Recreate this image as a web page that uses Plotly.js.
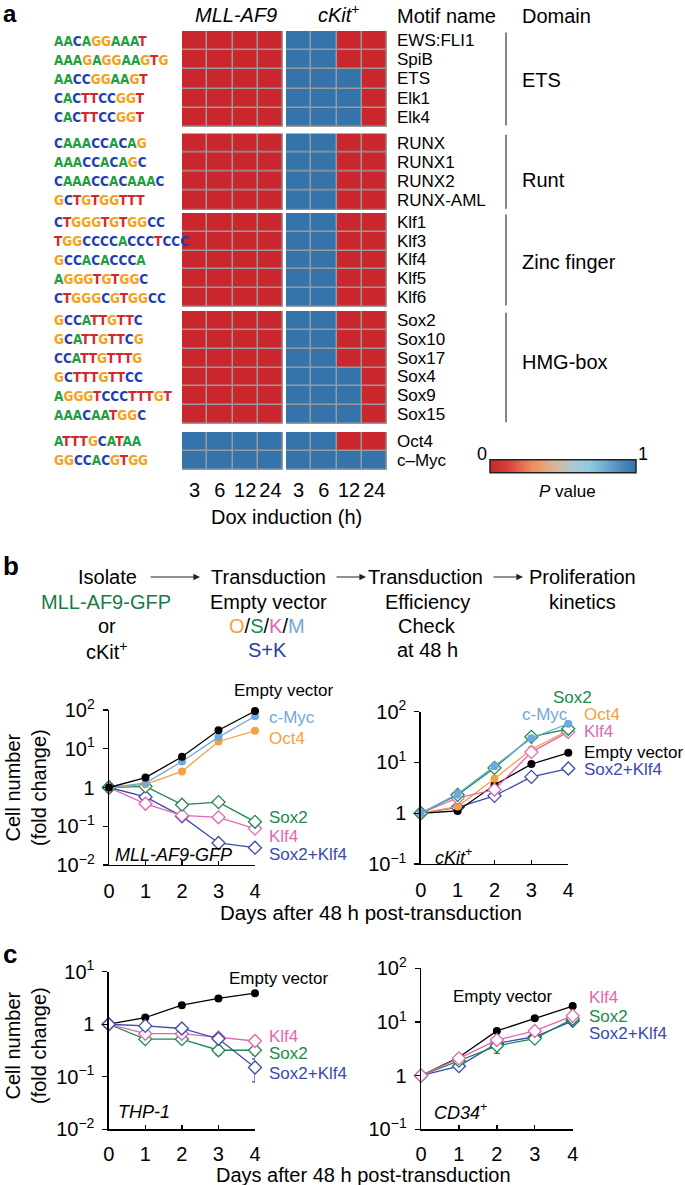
<!DOCTYPE html>
<html><head><meta charset="utf-8">
<script src="https://cdn.plot.ly/plotly-3.0.1.min.js"></script>
<style>html,body{margin:0;padding:0;background:#fff}#chart{width:685px;height:1185px}</style>
</head><body><div id="chart"></div>
<script>
// ---------------- DATA ----------------
const timeLabels = ['3','6','12','24'];
const etsMotifs = ['EWS:FLI1','SpiB','ETS','Elk1','Elk4'];
const runtMotifs = ['RUNX','RUNX1','RUNX2','RUNX-AML'];
const klfMotifs = ['Klf1','Klf3','Klf4','Klf5','Klf6'];
const soxMotifs = ['Sox2','Sox10','Sox17','Sox4','Sox9','Sox15'];
const otherMotifs = ['Oct4','c–Myc'];
const etsLogos = ['AACAGGAAAT','AAAGAGGAAGTG','AACCGGAAGT','CACTTCCGGT','CACTTCCGGT'];
const runtLogos = ['CAAACCACAG','AAACCACAGC','CAAACCACAAAC','GCTGTGGTTT'];
const klfLogos = ['CTGGGTGTGGCC','TGGCCCCACCCTCCC','GCCACACCCA','AGGGTGTGGC','CTGGGCGTGGCC'];
const soxLogos = ['GCCATTGTTC','GCATTGTTCG','CCATTGTTTG','GCTTTGTTCC','AGGGTCCCTTTGT','AAACAATGGC'];
const otherLogos = ['ATTTGCATAA','GGCCACGTGG'];
// P values (0 = red, 1 = blue)
const etsMLL = [[0,0,0,0],[0,0,0,0],[0,0,0,0],[0,0,0,0],[0,0,0,0]];
const etsCKit = [[1,1,0,0],[1,1,0,0],[1,1,1,0],[1,1,1,0],[1,1,1,0]];
const runtMLL = [[0,0,0,0],[0,0,0,0],[0,0,0,0],[0,0,0,0]];
const runtCKit = [[1,1,0,0],[1,1,0,0],[1,1,0,0],[1,1,0,0]];
const klfMLL = [[0,0,0,0],[0,0,0,0],[0,0,0,0],[0,0,0,0],[0,0,0,0]];
const klfCKit = [[1,1,0,0],[1,1,0,0],[1,1,0,0],[1,1,0,0],[1,1,0,0]];
const soxMLL = [[0,0,0,0],[0,0,0,0],[0,0,0,0],[0,0,0,0],[0,0,0,0],[0,0,0,0]];
const soxCKit = [[1,1,0,0],[1,1,0,0],[1,1,0,0],[1,1,1,0],[1,1,1,0],[1,1,1,0]];
const otherMLL = [[1,1,1,1],[1,1,1,1]];
const otherCKit = [[1,1,0,0],[1,1,1,1]];
const domainNames = ['ETS','Runt','Zinc finger','HMG-box'];

const days = [0,1,2,3,4];
const mllEmpty = [1,1.8,6.2,30,94];
const mllMyc = [1,1.3,4.7,20,69];
const mllOct4 = [1,1.2,2.6,15.4,29];
const mllSox2 = [1,1.07,0.36,0.42,0.13];
const mllKlf4 = [1,0.38,0.19,0.17,0.087];
const mllSK = [1,0.57,0.18,0.037,0.028];

const ckEmpty = [1,1.11,3.6,9.3,15.5];
const ckMyc = [1,2.4,8.5,30,58];
const ckSox2 = [1,2.3,7.8,32,46];
const ckOct4 = [1,1.35,4.8,18,43];
const ckKlf4 = [1,2.0,2.9,16,40];
const ckSK = [1,1.3,2.2,5.2,7.6];
const ckMycErr = [0,0.4,1.2,2,4];
const ckKlf4Err = [0,0.2,0.3,1.5,8];

const thpEmpty = [1,1.34,2.3,3.1,3.9];
const thpKlf4 = [1,0.66,0.66,0.56,0.48];
const thpSox2 = [1,0.52,0.52,0.32,0.32];
const thpSK = [1,0.93,0.83,0.53,0.15];
const thpKlf4Err = [0,0.03,0.03,0.03,0.1];
const thpSox2Err = [0,0.03,0.03,0.06,0.06];
const thpSKErr = [0,0.03,0.03,0.03,0.07];

const cdEmpty = [1,2.2,6.8,11.7,19.8];
const cdKlf4 = [1,2.1,4.6,6.8,13];
const cdSox2 = [1,1.9,3.6,4.9,11.5];
const cdSK = [1,1.5,4.0,5.3,10.5];
const cdSox2Err = [0,0.2,1.0,0.4,1.0];

// ---------------- STYLE ----------------
const W=685, H=1185;
const X = p => p/W;
const Y = p => 1 - p/H;
const FONT = 'Liberation Sans, Arial, Helvetica, sans-serif';
const LOGOFONT = 'DejaVu Sans Condensed, Liberation Sans Narrow, sans-serif';
const colEmpty='#000000', colMyc='#6fa8dc', colOct4='#f7a040', colSox2='#1c8a4a', colKlf4='#e067b0', colSK='#3a4aad';
const logoColors = {A:'#1f9e3f', C:'#1f3fb5', G:'#f5a21b', T:'#d6262b'};
const heatScale = [[0,'#c9262e'],[0.12,'#d8403a'],[0.3,'#ef925c'],[0.45,'#d8b69a'],[0.57,'#a9c9d4'],[0.68,'#90cbe0'],[0.8,'#6ea8cf'],[0.9,'#4a8abd'],[1,'#3474aa']];

const groupMotifs = [etsMotifs, runtMotifs, klfMotifs, soxMotifs, otherMotifs];
const groupLogos = [etsLogos, runtLogos, klfLogos, soxLogos, otherLogos];
const groupMLL = [etsMLL, runtMLL, klfMLL, soxMLL, otherMLL];
const groupCKit = [etsCKit, runtCKit, klfCKit, soxCKit, otherCKit];
const groupPx = [[31,127],[133.5,210],[213,307],[311,424],[432,470]];
const domainLabelPx = [80,180,262,362];

const traces = [];
const layout = {
  width: W, height: H, margin:{l:0,r:0,t:0,b:0},
  paper_bgcolor:'#fff', plot_bgcolor:'rgba(0,0,0,0)',
  showlegend:false, font:{family:FONT, color:'#000'},
  annotations:[], shapes:[]
};
const A = layout.annotations, S = layout.shapes;
function txt(t, xpx, ypx, size, opts){
  A.push(Object.assign({text:t, x:X(xpx), y:Y(ypx), xref:'paper', yref:'paper', showarrow:false,
    xanchor:'center', yanchor:'middle', font:{size:size, family:FONT, color:'#000'}}, opts||{}));
}

// heatmap x axes
const hx = {type:'category', showgrid:false, zeroline:false, showline:false, ticks:'', anchor:'y5',
  tickfont:{size:20}, ticklabelstandoff:6, range:[-0.5,3.5]};
layout.xaxis = Object.assign({domain:[X(182),X(283)]}, hx);
layout.xaxis2 = Object.assign({domain:[X(286),X(387)]}, hx);

groupMotifs.forEach((names, g) => {
  const k = g+1;
  const yn = k===1 ? 'y' : 'y'+k;
  const key = k===1 ? 'yaxis' : 'yaxis'+k;
  layout[key] = {domain:[Y(groupPx[g][1]), Y(groupPx[g][0])], anchor:'x', type:'category',
    range:[names.length-0.5,-0.5], showgrid:false, zeroline:false, showline:false, ticks:'', showticklabels:false};
  [['x', groupMLL[g]], ['x2', groupCKit[g]]].forEach(([xn, z]) => {
    S.push({type:'rect', xref:xn+' domain', yref:yn+' domain', x0:0, x1:1, y0:0, y1:1,
      fillcolor:'#9a9a9a', line:{width:0}, layer:'below'});
    const tr = {type:'heatmap', x:timeLabels, y:names, z:z, xaxis:xn, yaxis:yn,
      colorscale:heatScale, zmin:0, zmax:1, xgap:1.5, ygap:1.5, showscale:false, hoverinfo:'skip'};
    if (g===4 && xn==='x2') {
      tr.showscale = true;
      tr.colorbar = {orientation:'h', x:X(563), xanchor:'center', y:Y(467.5), yanchor:'middle',
        len:146, lenmode:'pixels', thickness:13, thicknessmode:'pixels', outlinewidth:1.5,
        outlinecolor:'#222', showticklabels:false, ticks:'', xpad:0, ypad:0};
    }
    traces.push(tr);
  });
  names.forEach((nm, i) => {
    A.push({text:nm, x:X(395), y:nm, xref:'paper', yref:yn, showarrow:false, xanchor:'left', yanchor:'middle',
      font:{size:17, family:FONT, color:'#000'}});
    const seq = groupLogos[g][i];
    A.push({text:'<b>'+seq.split('').map(c=>'<span style="color:'+logoColors[c]+'">'+c+'</span>').join('')+'</b>',
      x:X(52), y:nm, xref:'paper', yref:yn, showarrow:false, xanchor:'left', yanchor:'middle',
      font:{size:13.5, family:LOGOFONT}});
  });
  if (g < 4) {
    S.push({type:'line', xref:'paper', yref:yn+' domain', x0:X(506), x1:X(506), y0:0.015, y1:0.985,
      line:{color:'#333', width:1.2}});
    txt(domainNames[g], 520, domainLabelPx[g], 20, {xanchor:'left'});
  }
});

// heatmap headers
txt('<i>MLL-AF9</i>', 236, 15, 20);
txt('<i>cKit</i><sup>+</sup>', 339, 14, 20);
txt('Motif name', 395, 16, 20, {xanchor:'left'});
txt('Domain', 520, 16, 20, {xanchor:'left'});
txt('Dox induction (h)', 286, 517, 20);
txt('0', 482, 454, 18);
txt('1', 643, 454, 18);
txt('<i>P</i> value', 567, 491, 17);

// panel letters
txt('<b>a</b>', 1, 14, 24, {xanchor:'left'});
txt('<b>b</b>', 1, 566, 26, {xanchor:'left'});
txt('<b>c</b>', 1, 954, 26, {xanchor:'left'});

// flow diagram
const FS = 20;
txt('Isolate', 107, 577, FS);
txt('<span style="color:#1b7a43">MLL-AF9-GFP</span>', 106, 602, FS);
txt('or', 107, 626, FS);
txt('cKit<sup>+</sup>', 107, 650, FS);
txt('Transduction', 268, 577, FS);
txt('Empty vector', 268, 602, FS);
txt('<span style="color:#f7a040">O</span>/<span style="color:#1c8a4a">S</span>/<span style="color:#e067b0">K</span>/<span style="color:#6fa8dc">M</span>', 267, 626, FS);
txt('<span style="color:#2e3d9e">S+K</span>', 267, 650, FS);
txt('Transduction', 426, 577, FS);
txt('Efficiency', 427, 602, FS);
txt('Check', 427, 626, FS);
txt('at 48 h', 427, 650, FS);
txt('Proliferation', 582, 577, FS);
txt('kinetics', 582, 602, FS);
[[149,200],[335,366],[492,523]].forEach(([a,b]) => {
  A.push({x:X(b), y:Y(577), xref:'paper', yref:'paper', ax:a-b, ay:0, text:'', showarrow:true,
    arrowhead:2, arrowsize:1.1, arrowwidth:1.2, arrowcolor:'#222', standoff:0});
});

// line plots
function logAxisY(domPx, range, anchor){
  const vals=[], txts=[];
  const all = {'-2':'10<sup>−2</sup>','-1':'10<sup>−1</sup>','0':'1','1':'10<sup>1</sup>','2':'10<sup>2</sup>'};
  for (let e=range[0]; e<=range[1]; e++){ vals.push(Math.pow(10,e)); txts.push(all[String(e)]); }
  return {domain:[Y(domPx[1]), Y(domPx[0])], anchor:anchor, type:'log', range:range,
    tickmode:'array', tickvals:vals, ticktext:txts, showline:true, linecolor:'#000', linewidth:1.3,
    ticks:'outside', ticklen:5, tickwidth:1.3, tickcolor:'#000', showgrid:false, zeroline:false,
    tickfont:{size:20}, ticklabelstandoff:4};
}
function linAxisX(domPx, anchor, standoff){
  return {domain:[X(domPx[0]), X(domPx[1])], anchor:anchor, range:[0,4], tickvals:[0,1,2,3,4],
    showline:true, linecolor:'#000', linewidth:1.3, ticks:'inside', ticklen:4, tickwidth:1.3, tickcolor:'#000',
    showgrid:false, zeroline:false, tickfont:{size:20}, ticklabelstandoff:standoff};
}
layout.xaxis3 = linAxisX([109,255], 'y6', 8);   layout.yaxis6 = logAxisY([710,865], [-2,2], 'x3');
layout.xaxis4 = linAxisX([420.7,568.3], 'y7', 8); layout.yaxis7 = logAxisY([711.7,864], [-1,2], 'x4');
layout.xaxis5 = linAxisX([108.7,255], 'y8', 6); layout.yaxis8 = logAxisY([971.7,1129.3], [-2,1], 'x5');
layout.xaxis6 = linAxisX([421,572.7], 'y9', 6); layout.yaxis9 = logAxisY([968.3,1129.3], [-1,2], 'x6');

function series(xa, ya, yv, color, open, err){
  const t = {type:'scatter', mode:'lines+markers', x:days, y:yv, xaxis:xa, yaxis:ya, cliponaxis:false,
    line:{color:color, width:1.3}, hoverinfo:'skip',
    marker: open ? {symbol:'diamond', size:10, color:'#fff', line:{color:color, width:1.3}}
                 : {symbol:'circle', size:8, color:color, line:{width:0}}};
  if (err) t.error_y = {type:'data', array:err, visible:true, color:color, thickness:1.2, width:3};
  traces.push(t);
}
// b left
series('x3','y6', mllSK, colSK, true);
series('x3','y6', mllKlf4, colKlf4, true);
series('x3','y6', mllSox2, colSox2, true);
series('x3','y6', mllOct4, colOct4, false);
series('x3','y6', mllMyc, colMyc, false);
series('x3','y6', mllEmpty, colEmpty, false);
// b right
series('x4','y7', ckSK, colSK, true);
series('x4','y7', ckEmpty, colEmpty, false);
series('x4','y7', ckOct4, colOct4, false);
series('x4','y7', ckKlf4, colKlf4, true, ckKlf4Err);
series('x4','y7', ckSox2, colSox2, true);
series('x4','y7', ckMyc, colMyc, false, ckMycErr);
// c left
series('x5','y8', thpEmpty, colEmpty, false);
series('x5','y8', thpSox2, colSox2, true, thpSox2Err);
series('x5','y8', thpKlf4, colKlf4, true, thpKlf4Err);
series('x5','y8', thpSK, colSK, true, thpSKErr);
// c right
series('x6','y9', cdEmpty, colEmpty, false);
series('x6','y9', cdSK, colSK, true);
series('x6','y9', cdSox2, colSox2, true, cdSox2Err);
series('x6','y9', cdKlf4, colKlf4, true);

// plot labels
const LS = 17;
txt('Empty vector', 284, 690, LS);
txt('c-Myc', 267, 717, LS, {xanchor:'left', font:{size:LS, family:FONT, color:colMyc}});
txt('Oct4', 267, 738, LS, {xanchor:'left', font:{size:LS, family:FONT, color:colOct4}});
txt('Sox2', 267, 817, LS, {xanchor:'left', font:{size:LS, family:FONT, color:colSox2}});
txt('Klf4', 267, 836, LS, {xanchor:'left', font:{size:LS, family:FONT, color:colKlf4}});
txt('Sox2+Klf4', 267, 854, LS, {xanchor:'left', font:{size:LS, family:FONT, color:colSK}});
txt('<i>MLL-AF9-GFP</i>', 113, 855, 18, {xanchor:'left'});

txt('Sox2', 572, 697, LS, {font:{size:LS, family:FONT, color:colSox2}});
txt('c-Myc', 545, 714, LS, {font:{size:LS, family:FONT, color:colMyc}});
txt('Oct4', 582, 714, LS, {xanchor:'left', font:{size:LS, family:FONT, color:colOct4}});
txt('Klf4', 582, 731, LS, {xanchor:'left', font:{size:LS, family:FONT, color:colKlf4}});
txt('Empty vector', 582, 753, LS, {xanchor:'left'});
txt('Sox2+Klf4', 582, 770, LS, {xanchor:'left', font:{size:LS, family:FONT, color:colSK}});
txt('<i>cKit</i><sup>+</sup>', 433, 856, 18, {xanchor:'left'});

txt('Empty vector', 279, 978, LS);
txt('Klf4', 267, 1036, LS, {xanchor:'left', font:{size:LS, family:FONT, color:colKlf4}});
txt('Sox2', 267, 1053, LS, {xanchor:'left', font:{size:LS, family:FONT, color:colSox2}});
txt('Sox2+Klf4', 267, 1073, LS, {xanchor:'left', font:{size:LS, family:FONT, color:colSK}});
txt('<i>THP-1</i>', 116, 1112, 18, {xanchor:'left'});

txt('Empty vector', 503, 996, LS);
txt('Klf4', 587, 997, LS, {xanchor:'left', font:{size:LS, family:FONT, color:colKlf4}});
txt('Sox2', 587, 1016, LS, {xanchor:'left', font:{size:LS, family:FONT, color:colSox2}});
txt('Sox2+Klf4', 587, 1033, LS, {xanchor:'left', font:{size:LS, family:FONT, color:colSK}});
txt('<i>CD34</i><sup>+</sup>', 432, 1111, 18, {xanchor:'left'});

// axis titles
txt('Cell number<br>(fold change)', 26, 788, 20, {textangle:-90});
txt('Cell number<br>(fold change)', 26, 1046, 20, {textangle:-90});
txt('Days after 48 h post-transduction', 371, 912, 20.5);
txt('Days after 48 h post-transduction', 363, 1175, 20);

Plotly.newPlot('chart', traces, layout, {staticPlot:true, displayModeBar:false});
</script></body></html>
